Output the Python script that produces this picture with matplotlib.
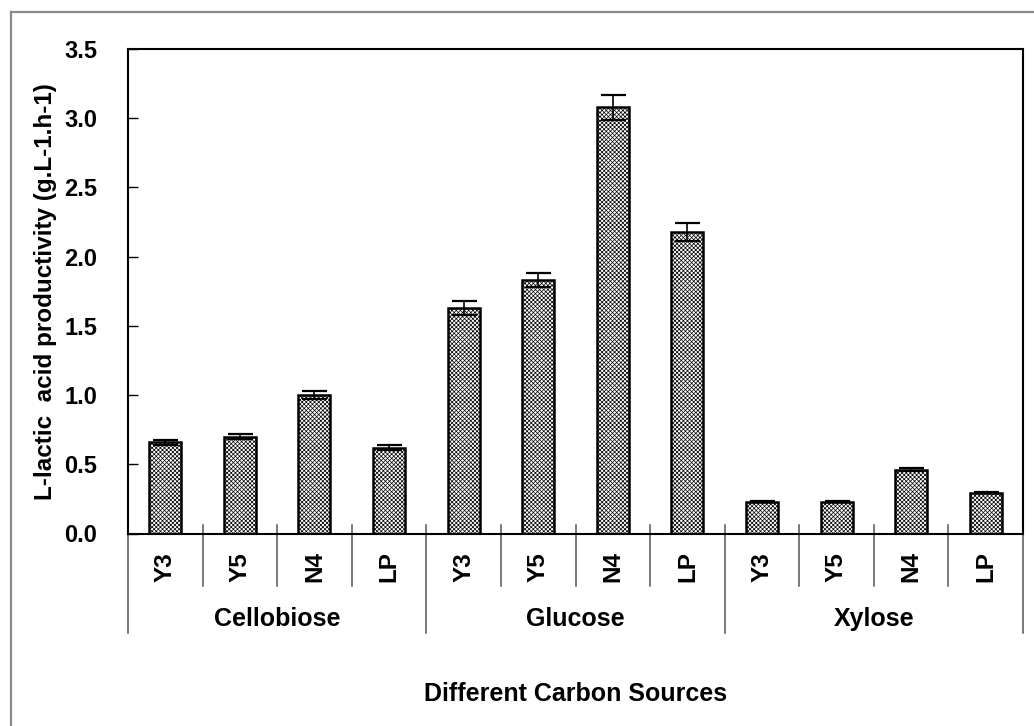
import matplotlib
matplotlib.use("Agg")
import matplotlib.pyplot as plt
from matplotlib.lines import Line2D
import numpy as np

# Data
groups = ["Cellobiose", "Glucose", "Xylose"]
strains = ["Y3", "Y5", "N4", "LP"]
cellobiose = [0.66, 0.70, 1.00, 0.62]
glucose = [1.63, 1.83, 3.08, 2.18]
xylose = [0.23, 0.23, 0.46, 0.295]
cellobiose_err = [0.019, 0.02, 0.027, 0.02]
glucose_err = [0.048, 0.05, 0.09, 0.065]
xylose_err = [0.005, 0.005, 0.01, 0.006]
yticks = [0.0, 0.5, 1.0, 1.5, 2.0, 2.5, 3.0, 3.5]

values = cellobiose + glucose + xylose
errors = cellobiose_err + glucose_err + xylose_err
labels = strains * len(groups)

plt.rcParams["font.family"] = ["Liberation Sans", "DejaVu Sans"]
plt.rcParams["font.weight"] = "bold"
plt.rcParams["hatch.linewidth"] = 0.5
plt.rcParams["hatch.color"] = "black"

W, H = 1034, 726
ax_l, ax_r, ax_t, ax_b = 128, 1023, 49, 533.5

fig = plt.figure(figsize=(W / 100, H / 100), dpi=100)
ax = fig.add_axes([ax_l / W, 1 - ax_b / H, (ax_r - ax_l) / W, (ax_b - ax_t) / H])

x = np.arange(len(values)) + 0.5
ax.bar(x, values, width=0.43, color="white", edgecolor="black",
       linewidth=1.8, hatch="xxxxxxxx", zorder=2)
ax.errorbar(x, values, yerr=errors, fmt="none", ecolor="black",
            elinewidth=1.2, capsize=9, capthick=1.6, zorder=3)

ax.set_xlim(0, len(values))
ax.set_ylim(0, 3.5)
ax.set_yticks(yticks)
ax.set_yticklabels([f"{t:.1f}" for t in yticks])
ax.tick_params(axis="y", direction="in", length=7, width=1, pad=22,
               labelsize=17)
ax.tick_params(axis="x", length=0, labelbottom=False)
for s in ax.spines.values():
    s.set_linewidth(1.5)
    s.set_color("black")

ax.set_ylabel("L-lactic  acid productivity (g.L-1.h-1)", fontsize=17.5,
              fontweight="bold")
ax.yaxis.set_label_coords((57 - ax_l) / (ax_r - ax_l), 0.5)

trans = ax.get_xaxis_transform()
ah = ax_b - ax_t

# category separators below the axis
for i in range(len(values) + 1):
    if i % 4 == 0:
        y1 = -(633 - ax_b) / ah
    else:
        y1 = -(586 - ax_b) / ah
    y0 = 9 / ah if 0 < i < len(values) else 0
    ax.add_line(Line2D([i, i], [y0, y1], transform=trans, color="#555555",
                       linewidth=1.1, clip_on=False, zorder=1))

# strain labels
for xi, lab in zip(x, labels):
    ax.text(xi, -(567 - ax_b) / ah, lab, transform=trans, rotation=90,
            ha="center", va="center", fontsize=17.5, fontweight="bold")

# group labels
for g, name in enumerate(groups):
    ax.text(4 * g + 2, -(626 - ax_b) / ah, name, transform=trans,
            ha="center", va="baseline", fontsize=18, fontweight="bold")

fig.text((ax_l + ax_r) / 2 / W, 1 - 701 / H, "Different Carbon Sources",
         ha="center", va="baseline", fontsize=18, fontweight="bold")

# outer frame
fig.add_artist(Line2D([11 / W, 11 / W], [0, 1 - 12 / H],
                      transform=fig.transFigure, color="#8a8a8a", linewidth=1.6))
fig.add_artist(Line2D([11 / W, 1], [1 - 12 / H, 1 - 12 / H],
                      transform=fig.transFigure, color="#8a8a8a", linewidth=1.6))

fig.savefig("out.png", dpi=100, facecolor="white")
